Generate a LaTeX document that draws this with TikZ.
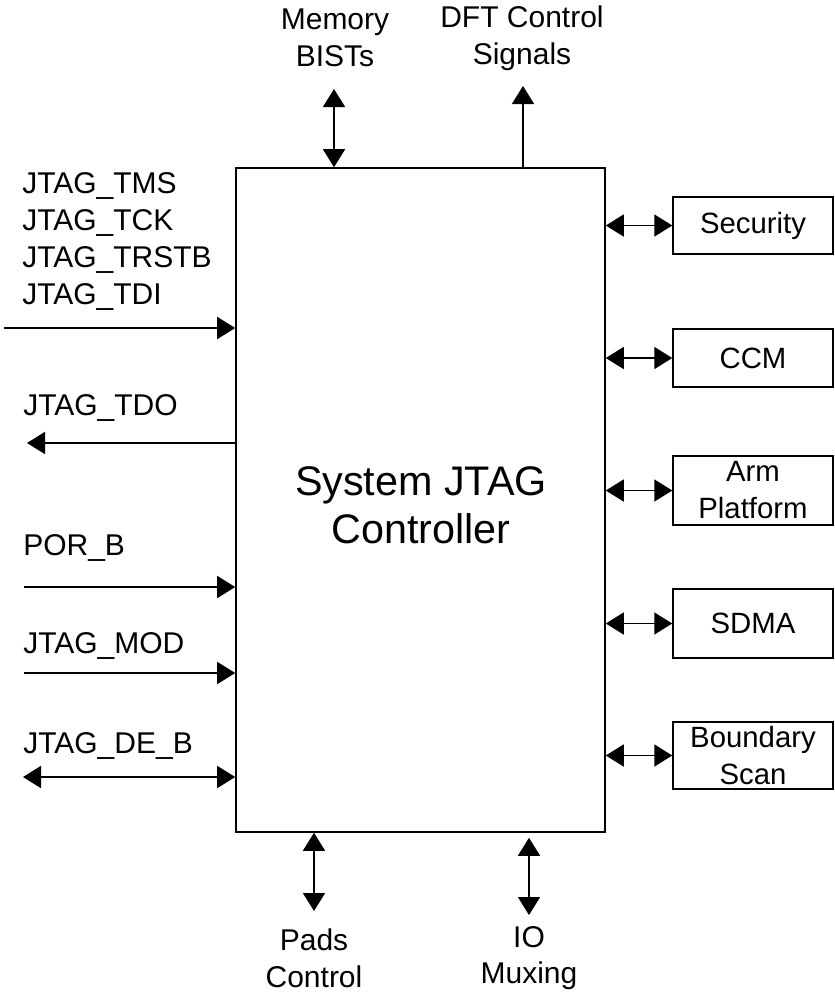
\documentclass[tikz,border=0pt]{standalone}
\usepackage{fontspec}
\setmainfont{Liberation Sans}
\usetikzlibrary{arrows.meta}
\begin{document}
\begin{tikzpicture}[x=0.75pt,y=-0.75pt,
  lbl/.style={font=\fontsize{22.5}{27.5}\selectfont, inner sep=0pt},
  blk/.style={draw, line width=1.1pt, inner sep=0pt, font=\fontsize{22}{27.75}\selectfont, align=center, minimum width=120pt},
  sig/.style={line width=1.2pt, -{Triangle[length=13.5pt,width=16.5pt]}},
  bidir/.style={line width=1.2pt, {Triangle[length=13.5pt,width=16.5pt]}-{Triangle[length=13.5pt,width=16.5pt]}}
]
\useasboundingbox (0,0) rectangle (835,1001);
% main block
\node[draw, line width=1.2pt, minimum width=276.75pt, minimum height=498pt, inner sep=0pt] (main) at (420.5,500) {};
\node[font=\fontsize{31}{36}\selectfont, align=center, inner sep=0pt] (title) at (421,505) {System JTAG\\Controller};
% right blocks
\node[blk, minimum height=42.75pt] (sec) at (753,225.5) {Security};
\node[blk, minimum height=43.5pt] (ccm) at (753,358) {CCM};
\node[blk, minimum height=51.75pt] (arm) at (753,490.5) {Arm\\Platform};
\node[blk, minimum height=51.75pt] (sdma) at (753,623.5) {SDMA};
\node[blk, minimum height=50.25pt] (bs) at (753,755.5) {Boundary\\Scan};
\draw[bidir] (main.east |- sec.west) -- (sec.west);
\draw[bidir] (main.east |- ccm.west) -- (ccm.west);
\draw[bidir] (main.east |- arm.west) -- (arm.west);
\draw[bidir] (main.east |- sdma.west) -- (sdma.west);
\draw[bidir] (main.east |- bs.west) -- (bs.west);
% left labels
\node[lbl, anchor=base west] (tms) at (22,193) {JTAG\_TMS};
\node[lbl, anchor=base west] (tck) at (22,230) {JTAG\_TCK};
\node[lbl, anchor=base west] (trstb) at (22,267) {JTAG\_TRSTB};
\node[lbl, anchor=base west] (tdi) at (22,304) {JTAG\_TDI};
\node[lbl, anchor=base west] (tdo) at (23,415) {JTAG\_TDO};
\node[lbl, anchor=base west] (por) at (23,555) {POR\_B};
\node[lbl, anchor=base west] (mod) at (23,653) {JTAG\_MOD};
\node[lbl, anchor=base west] (deb) at (23,753) {JTAG\_DE\_B};
% left connectors
\coordinate (tdiin) at (4,328);
\draw[sig] (tdiin) -- (tdiin -| main.west);
\coordinate (tdoout) at (27,443);
\draw[sig] (tdoout -| main.west) -- (tdoout);
\coordinate (porin) at (24,587);
\draw[sig] (porin) -- (porin -| main.west);
\coordinate (modin) at (24,673);
\draw[sig] (modin) -- (modin -| main.west);
\coordinate (debend) at (23,777);
\draw[bidir] (debend) -- (debend -| main.west);
% top
\node[lbl, align=center] (mem) at (335,38) {Memory\\BISTs};
\node[lbl, align=center] (dft) at (522,38) {DFT Control\\Signals};
\coordinate (memtop) at (334,89);
\draw[bidir] (memtop |- main.north) -- (memtop);
\coordinate (dfttop) at (523,86);
\draw[sig] (dfttop |- main.north) -- (dfttop);
% bottom
\node[lbl, align=center] (pads) at (314,958) {Pads\\Control};
\node[lbl, align=center] (iomux) at (529,958) {IO\\Muxing};
\coordinate (padsend) at (314,911);
\draw[bidir] (padsend |- main.south) -- (padsend);
\coordinate (ioend) at (529,915);
\draw[bidir, shorten <=3.75pt] (ioend |- main.south) -- (ioend);
\end{tikzpicture}
\end{document}
